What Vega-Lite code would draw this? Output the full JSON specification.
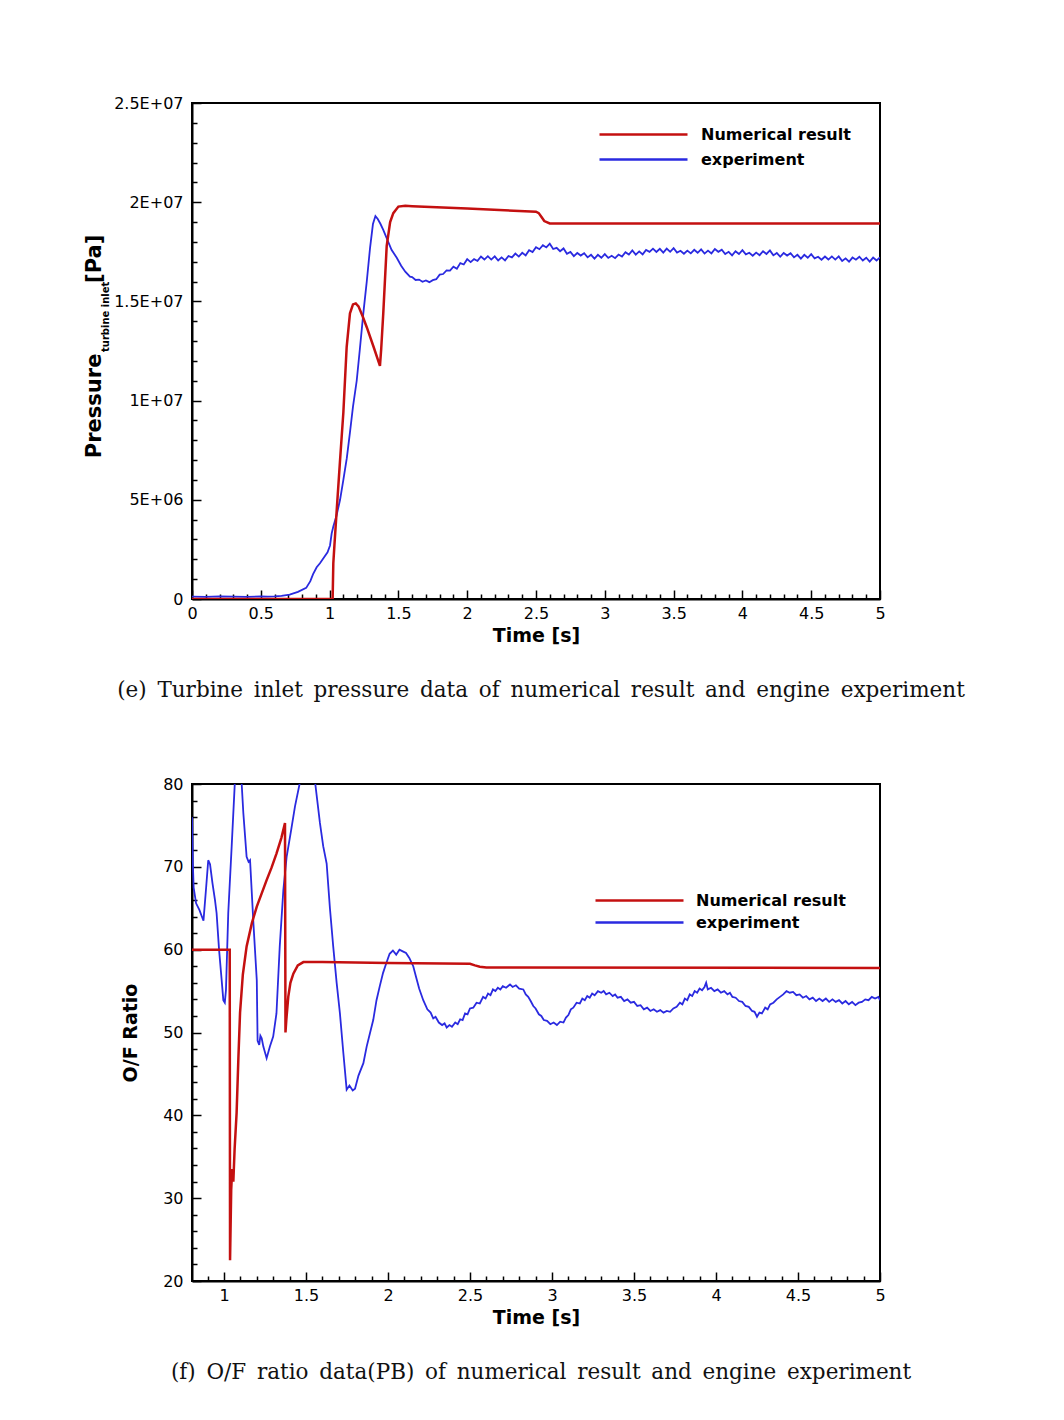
{
  "$schema": "https://vega.github.io/schema/vega-lite/v6.json",
  "background": "white",
  "padding": {"left": 83, "top": 94, "right": 10, "bottom": 10},
  "spacing": 72,
  "config": {
    "view": {"stroke": "black", "strokeWidth": 2},
    "axis": {"domainColor": "black", "domainWidth": 2, "tickColor": "black", "tickWidth": 1.5, "labelFont": "DejaVu Sans", "labelFontSize": 16, "labelColor": "black", "titleFont": "DejaVu Sans", "titleFontWeight": "bold", "titleFontSize": 19, "titleColor": "black", "grid": false, "labelFlush": false, "labelOverlap": false, "labelBound": false},
    "legend": {"symbolType": "M-4.4,0H4.4", "symbolSize": 400, "symbolStrokeWidth": 2.5, "labelFont": "DejaVu Sans", "labelFontWeight": "bold", "labelFontSize": 16, "labelColor": "black", "labelLimit": 0, "padding": 0, "title": null}
  },
  "resolve": {"scale": {"color": "independent"}, "legend": {"color": "independent"}},
  "datasets": {
    "pressure": [
      {"t": 0, "p": 0.12e6, "series": "experiment"},
      {"t": 0.1, "p": 0.11e6, "series": "experiment"},
      {"t": 0.2, "p": 0.13e6, "series": "experiment"},
      {"t": 0.3, "p": 0.12e6, "series": "experiment"},
      {"t": 0.4, "p": 0.11e6, "series": "experiment"},
      {"t": 0.5, "p": 0.13e6, "series": "experiment"},
      {"t": 0.55, "p": 0.12e6, "series": "experiment"},
      {"t": 0.6, "p": 0.13e6, "series": "experiment"},
      {"t": 0.65, "p": 0.16e6, "series": "experiment"},
      {"t": 0.71, "p": 0.22e6, "series": "experiment"},
      {"t": 0.77, "p": 0.36e6, "series": "experiment"},
      {"t": 0.83, "p": 0.56e6, "series": "experiment"},
      {"t": 0.86, "p": 0.9e6, "series": "experiment"},
      {"t": 0.88, "p": 1.25e6, "series": "experiment"},
      {"t": 0.906, "p": 1.6e6, "series": "experiment"},
      {"t": 0.93, "p": 1.8e6, "series": "experiment"},
      {"t": 0.96, "p": 2.1e6, "series": "experiment"},
      {"t": 0.985, "p": 2.35e6, "series": "experiment"},
      {"t": 1.003, "p": 2.7e6, "series": "experiment"},
      {"t": 1.015, "p": 3.3e6, "series": "experiment"},
      {"t": 1.027, "p": 3.65e6, "series": "experiment"},
      {"t": 1.05, "p": 4.2e6, "series": "experiment"},
      {"t": 1.076, "p": 5.0e6, "series": "experiment"},
      {"t": 1.1, "p": 6.0e6, "series": "experiment"},
      {"t": 1.125, "p": 7.1e6, "series": "experiment"},
      {"t": 1.148, "p": 8.4e6, "series": "experiment"},
      {"t": 1.17, "p": 9.7e6, "series": "experiment"},
      {"t": 1.197, "p": 11.0e6, "series": "experiment"},
      {"t": 1.22, "p": 12.6e6, "series": "experiment"},
      {"t": 1.245, "p": 14.4e6, "series": "experiment"},
      {"t": 1.27, "p": 16.0e6, "series": "experiment"},
      {"t": 1.294, "p": 17.7e6, "series": "experiment"},
      {"t": 1.315, "p": 18.9e6, "series": "experiment"},
      {"t": 1.333, "p": 19.3e6, "series": "experiment"},
      {"t": 1.35, "p": 19.15e6, "series": "experiment"},
      {"t": 1.37, "p": 18.9e6, "series": "experiment"},
      {"t": 1.39, "p": 18.6e6, "series": "experiment"},
      {"t": 1.42, "p": 18.1e6, "series": "experiment"},
      {"t": 1.45, "p": 17.6e6, "series": "experiment"},
      {"t": 1.488, "p": 17.2e6, "series": "experiment"},
      {"t": 1.52, "p": 16.8e6, "series": "experiment"},
      {"t": 1.55, "p": 16.5e6, "series": "experiment"},
      {"t": 1.584, "p": 16.25e6, "series": "experiment"},
      {"t": 1.6, "p": 16.23e6, "series": "experiment"},
      {"t": 1.625, "p": 16.08e6, "series": "experiment"},
      {"t": 1.65, "p": 16.10e6, "series": "experiment"},
      {"t": 1.675, "p": 15.99e6, "series": "experiment"},
      {"t": 1.7, "p": 16.06e6, "series": "experiment"},
      {"t": 1.725, "p": 15.97e6, "series": "experiment"},
      {"t": 1.75, "p": 16.07e6, "series": "experiment"},
      {"t": 1.775, "p": 16.12e6, "series": "experiment"},
      {"t": 1.8, "p": 16.35e6, "series": "experiment"},
      {"t": 1.825, "p": 16.38e6, "series": "experiment"},
      {"t": 1.85, "p": 16.56e6, "series": "experiment"},
      {"t": 1.875, "p": 16.55e6, "series": "experiment"},
      {"t": 1.9, "p": 16.75e6, "series": "experiment"},
      {"t": 1.925, "p": 16.65e6, "series": "experiment"},
      {"t": 1.95, "p": 16.93e6, "series": "experiment"},
      {"t": 1.975, "p": 16.86e6, "series": "experiment"},
      {"t": 2.0, "p": 17.13e6, "series": "experiment"},
      {"t": 2.025, "p": 16.98e6, "series": "experiment"},
      {"t": 2.05, "p": 17.13e6, "series": "experiment"},
      {"t": 2.075, "p": 17.04e6, "series": "experiment"},
      {"t": 2.1, "p": 17.26e6, "series": "experiment"},
      {"t": 2.125, "p": 17.11e6, "series": "experiment"},
      {"t": 2.15, "p": 17.28e6, "series": "experiment"},
      {"t": 2.175, "p": 17.11e6, "series": "experiment"},
      {"t": 2.2, "p": 17.27e6, "series": "experiment"},
      {"t": 2.225, "p": 17.06e6, "series": "experiment"},
      {"t": 2.25, "p": 17.22e6, "series": "experiment"},
      {"t": 2.275, "p": 17.07e6, "series": "experiment"},
      {"t": 2.3, "p": 17.29e6, "series": "experiment"},
      {"t": 2.325, "p": 17.22e6, "series": "experiment"},
      {"t": 2.35, "p": 17.41e6, "series": "experiment"},
      {"t": 2.375, "p": 17.26e6, "series": "experiment"},
      {"t": 2.4, "p": 17.45e6, "series": "experiment"},
      {"t": 2.425, "p": 17.32e6, "series": "experiment"},
      {"t": 2.45, "p": 17.58e6, "series": "experiment"},
      {"t": 2.475, "p": 17.49e6, "series": "experiment"},
      {"t": 2.5, "p": 17.73e6, "series": "experiment"},
      {"t": 2.525, "p": 17.63e6, "series": "experiment"},
      {"t": 2.55, "p": 17.83e6, "series": "experiment"},
      {"t": 2.575, "p": 17.72e6, "series": "experiment"},
      {"t": 2.6, "p": 17.91e6, "series": "experiment"},
      {"t": 2.625, "p": 17.64e6, "series": "experiment"},
      {"t": 2.65, "p": 17.70e6, "series": "experiment"},
      {"t": 2.675, "p": 17.53e6, "series": "experiment"},
      {"t": 2.7, "p": 17.67e6, "series": "experiment"},
      {"t": 2.725, "p": 17.40e6, "series": "experiment"},
      {"t": 2.75, "p": 17.49e6, "series": "experiment"},
      {"t": 2.775, "p": 17.28e6, "series": "experiment"},
      {"t": 2.8, "p": 17.44e6, "series": "experiment"},
      {"t": 2.825, "p": 17.31e6, "series": "experiment"},
      {"t": 2.85, "p": 17.43e6, "series": "experiment"},
      {"t": 2.875, "p": 17.22e6, "series": "experiment"},
      {"t": 2.9, "p": 17.35e6, "series": "experiment"},
      {"t": 2.925, "p": 17.16e6, "series": "experiment"},
      {"t": 2.95, "p": 17.35e6, "series": "experiment"},
      {"t": 2.975, "p": 17.20e6, "series": "experiment"},
      {"t": 3.0, "p": 17.38e6, "series": "experiment"},
      {"t": 3.025, "p": 17.19e6, "series": "experiment"},
      {"t": 3.05, "p": 17.30e6, "series": "experiment"},
      {"t": 3.075, "p": 17.18e6, "series": "experiment"},
      {"t": 3.1, "p": 17.36e6, "series": "experiment"},
      {"t": 3.125, "p": 17.26e6, "series": "experiment"},
      {"t": 3.15, "p": 17.48e6, "series": "experiment"},
      {"t": 3.175, "p": 17.36e6, "series": "experiment"},
      {"t": 3.2, "p": 17.57e6, "series": "experiment"},
      {"t": 3.225, "p": 17.36e6, "series": "experiment"},
      {"t": 3.25, "p": 17.52e6, "series": "experiment"},
      {"t": 3.275, "p": 17.37e6, "series": "experiment"},
      {"t": 3.3, "p": 17.59e6, "series": "experiment"},
      {"t": 3.325, "p": 17.50e6, "series": "experiment"},
      {"t": 3.35, "p": 17.66e6, "series": "experiment"},
      {"t": 3.375, "p": 17.49e6, "series": "experiment"},
      {"t": 3.4, "p": 17.65e6, "series": "experiment"},
      {"t": 3.425, "p": 17.46e6, "series": "experiment"},
      {"t": 3.45, "p": 17.66e6, "series": "experiment"},
      {"t": 3.475, "p": 17.50e6, "series": "experiment"},
      {"t": 3.5, "p": 17.68e6, "series": "experiment"},
      {"t": 3.525, "p": 17.46e6, "series": "experiment"},
      {"t": 3.55, "p": 17.55e6, "series": "experiment"},
      {"t": 3.575, "p": 17.40e6, "series": "experiment"},
      {"t": 3.6, "p": 17.56e6, "series": "experiment"},
      {"t": 3.625, "p": 17.42e6, "series": "experiment"},
      {"t": 3.65, "p": 17.60e6, "series": "experiment"},
      {"t": 3.675, "p": 17.45e6, "series": "experiment"},
      {"t": 3.7, "p": 17.62e6, "series": "experiment"},
      {"t": 3.725, "p": 17.41e6, "series": "experiment"},
      {"t": 3.75, "p": 17.56e6, "series": "experiment"},
      {"t": 3.775, "p": 17.42e6, "series": "experiment"},
      {"t": 3.8, "p": 17.64e6, "series": "experiment"},
      {"t": 3.825, "p": 17.50e6, "series": "experiment"},
      {"t": 3.85, "p": 17.61e6, "series": "experiment"},
      {"t": 3.875, "p": 17.39e6, "series": "experiment"},
      {"t": 3.9, "p": 17.50e6, "series": "experiment"},
      {"t": 3.925, "p": 17.32e6, "series": "experiment"},
      {"t": 3.95, "p": 17.53e6, "series": "experiment"},
      {"t": 3.975, "p": 17.39e6, "series": "experiment"},
      {"t": 4.0, "p": 17.58e6, "series": "experiment"},
      {"t": 4.025, "p": 17.37e6, "series": "experiment"},
      {"t": 4.05, "p": 17.45e6, "series": "experiment"},
      {"t": 4.075, "p": 17.30e6, "series": "experiment"},
      {"t": 4.1, "p": 17.46e6, "series": "experiment"},
      {"t": 4.125, "p": 17.33e6, "series": "experiment"},
      {"t": 4.15, "p": 17.53e6, "series": "experiment"},
      {"t": 4.175, "p": 17.39e6, "series": "experiment"},
      {"t": 4.2, "p": 17.57e6, "series": "experiment"},
      {"t": 4.225, "p": 17.32e6, "series": "experiment"},
      {"t": 4.25, "p": 17.44e6, "series": "experiment"},
      {"t": 4.275, "p": 17.25e6, "series": "experiment"},
      {"t": 4.3, "p": 17.44e6, "series": "experiment"},
      {"t": 4.325, "p": 17.31e6, "series": "experiment"},
      {"t": 4.35, "p": 17.43e6, "series": "experiment"},
      {"t": 4.375, "p": 17.22e6, "series": "experiment"},
      {"t": 4.4, "p": 17.35e6, "series": "experiment"},
      {"t": 4.425, "p": 17.16e6, "series": "experiment"},
      {"t": 4.45, "p": 17.35e6, "series": "experiment"},
      {"t": 4.475, "p": 17.20e6, "series": "experiment"},
      {"t": 4.5, "p": 17.38e6, "series": "experiment"},
      {"t": 4.525, "p": 17.17e6, "series": "experiment"},
      {"t": 4.55, "p": 17.25e6, "series": "experiment"},
      {"t": 4.575, "p": 17.10e6, "series": "experiment"},
      {"t": 4.6, "p": 17.26e6, "series": "experiment"},
      {"t": 4.625, "p": 17.11e6, "series": "experiment"},
      {"t": 4.65, "p": 17.27e6, "series": "experiment"},
      {"t": 4.675, "p": 17.11e6, "series": "experiment"},
      {"t": 4.7, "p": 17.27e6, "series": "experiment"},
      {"t": 4.725, "p": 17.04e6, "series": "experiment"},
      {"t": 4.75, "p": 17.17e6, "series": "experiment"},
      {"t": 4.775, "p": 17.00e6, "series": "experiment"},
      {"t": 4.8, "p": 17.21e6, "series": "experiment"},
      {"t": 4.825, "p": 17.10e6, "series": "experiment"},
      {"t": 4.85, "p": 17.25e6, "series": "experiment"},
      {"t": 4.875, "p": 17.06e6, "series": "experiment"},
      {"t": 4.9, "p": 17.20e6, "series": "experiment"},
      {"t": 4.925, "p": 17.01e6, "series": "experiment"},
      {"t": 4.95, "p": 17.21e6, "series": "experiment"},
      {"t": 4.975, "p": 17.06e6, "series": "experiment"},
      {"t": 5.0, "p": 17.22e6, "series": "experiment"},
      {"t": 0, "p": 0, "series": "Numerical result"},
      {"t": 1.022, "p": 0, "series": "Numerical result"},
      {"t": 1.027, "p": 1.8e6, "series": "Numerical result"},
      {"t": 1.035, "p": 2.7e6, "series": "Numerical result"},
      {"t": 1.05, "p": 4.3e6, "series": "Numerical result"},
      {"t": 1.075, "p": 6.9e6, "series": "Numerical result"},
      {"t": 1.1, "p": 9.4e6, "series": "Numerical result"},
      {"t": 1.124, "p": 12.7e6, "series": "Numerical result"},
      {"t": 1.148, "p": 14.4e6, "series": "Numerical result"},
      {"t": 1.17, "p": 14.85e6, "series": "Numerical result"},
      {"t": 1.19, "p": 14.9e6, "series": "Numerical result"},
      {"t": 1.21, "p": 14.75e6, "series": "Numerical result"},
      {"t": 1.24, "p": 14.25e6, "series": "Numerical result"},
      {"t": 1.27, "p": 13.7e6, "series": "Numerical result"},
      {"t": 1.32, "p": 12.7e6, "series": "Numerical result"},
      {"t": 1.366, "p": 11.75e6, "series": "Numerical result"},
      {"t": 1.375, "p": 12.6e6, "series": "Numerical result"},
      {"t": 1.39, "p": 14.4e6, "series": "Numerical result"},
      {"t": 1.415, "p": 17.8e6, "series": "Numerical result"},
      {"t": 1.44, "p": 19.0e6, "series": "Numerical result"},
      {"t": 1.463, "p": 19.45e6, "series": "Numerical result"},
      {"t": 1.5, "p": 19.78e6, "series": "Numerical result"},
      {"t": 1.55, "p": 19.82e6, "series": "Numerical result"},
      {"t": 1.6, "p": 19.8e6, "series": "Numerical result"},
      {"t": 2.0, "p": 19.68e6, "series": "Numerical result"},
      {"t": 2.5, "p": 19.52e6, "series": "Numerical result"},
      {"t": 2.52, "p": 19.45e6, "series": "Numerical result"},
      {"t": 2.54, "p": 19.25e6, "series": "Numerical result"},
      {"t": 2.56, "p": 19.05e6, "series": "Numerical result"},
      {"t": 2.6, "p": 18.93e6, "series": "Numerical result"},
      {"t": 5.0, "p": 18.93e6, "series": "Numerical result"}
    ],
    "ratio": [
      {"t": 0.805, "r": 76, "series": "experiment"},
      {"t": 0.81, "r": 70.5, "series": "experiment"},
      {"t": 0.815, "r": 67.5, "series": "experiment"},
      {"t": 0.83, "r": 65.6, "series": "experiment"},
      {"t": 0.85, "r": 64.8, "series": "experiment"},
      {"t": 0.865, "r": 64.0, "series": "experiment"},
      {"t": 0.875, "r": 63.5, "series": "experiment"},
      {"t": 0.89, "r": 67.2, "series": "experiment"},
      {"t": 0.904, "r": 70.8, "series": "experiment"},
      {"t": 0.915, "r": 70.3, "series": "experiment"},
      {"t": 0.93, "r": 68.0, "series": "experiment"},
      {"t": 0.945, "r": 66.0, "series": "experiment"},
      {"t": 0.955, "r": 64.4, "series": "experiment"},
      {"t": 0.97, "r": 60.0, "series": "experiment"},
      {"t": 0.986, "r": 56.3, "series": "experiment"},
      {"t": 0.996, "r": 53.9, "series": "experiment"},
      {"t": 1.005, "r": 53.6, "series": "experiment"},
      {"t": 1.012, "r": 55.1, "series": "experiment"},
      {"t": 1.026, "r": 64.4, "series": "experiment"},
      {"t": 1.047, "r": 72.5, "series": "experiment"},
      {"t": 1.067, "r": 80.5, "series": "experiment"},
      {"t": 1.08, "r": 83, "series": "experiment"},
      {"t": 1.1, "r": 82, "series": "experiment"},
      {"t": 1.108, "r": 80, "series": "experiment"},
      {"t": 1.118, "r": 76.5, "series": "experiment"},
      {"t": 1.138, "r": 71.2, "series": "experiment"},
      {"t": 1.15, "r": 70.6, "series": "experiment"},
      {"t": 1.159, "r": 70.8, "series": "experiment"},
      {"t": 1.18, "r": 63, "series": "experiment"},
      {"t": 1.2, "r": 56.3, "series": "experiment"},
      {"t": 1.205, "r": 49, "series": "experiment"},
      {"t": 1.215, "r": 48.5, "series": "experiment"},
      {"t": 1.222, "r": 49.6, "series": "experiment"},
      {"t": 1.23, "r": 49.3, "series": "experiment"},
      {"t": 1.24, "r": 48.3, "series": "experiment"},
      {"t": 1.26, "r": 46.9, "series": "experiment"},
      {"t": 1.28, "r": 48.3, "series": "experiment"},
      {"t": 1.3, "r": 49.5, "series": "experiment"},
      {"t": 1.32, "r": 52.3, "series": "experiment"},
      {"t": 1.34, "r": 60.4, "series": "experiment"},
      {"t": 1.362, "r": 67.2, "series": "experiment"},
      {"t": 1.382, "r": 71.2, "series": "experiment"},
      {"t": 1.41, "r": 74.5, "series": "experiment"},
      {"t": 1.433, "r": 77.3, "series": "experiment"},
      {"t": 1.463, "r": 80.2, "series": "experiment"},
      {"t": 1.5, "r": 82.5, "series": "experiment"},
      {"t": 1.53, "r": 82.5, "series": "experiment"},
      {"t": 1.555, "r": 80.3, "series": "experiment"},
      {"t": 1.585, "r": 75.3, "series": "experiment"},
      {"t": 1.605, "r": 72.5, "series": "experiment"},
      {"t": 1.626, "r": 70.4, "series": "experiment"},
      {"t": 1.646, "r": 65, "series": "experiment"},
      {"t": 1.666, "r": 60.4, "series": "experiment"},
      {"t": 1.687, "r": 56, "series": "experiment"},
      {"t": 1.707, "r": 52.3, "series": "experiment"},
      {"t": 1.728, "r": 47.5, "series": "experiment"},
      {"t": 1.748, "r": 43.1, "series": "experiment"},
      {"t": 1.765, "r": 43.6, "series": "experiment"},
      {"t": 1.785, "r": 43.0, "series": "experiment"},
      {"t": 1.799, "r": 43.2, "series": "experiment"},
      {"t": 1.82, "r": 44.8, "series": "experiment"},
      {"t": 1.85, "r": 46.3, "series": "experiment"},
      {"t": 1.87, "r": 48.3, "series": "experiment"},
      {"t": 1.89, "r": 49.9, "series": "experiment"},
      {"t": 1.91, "r": 51.5, "series": "experiment"},
      {"t": 1.93, "r": 53.9, "series": "experiment"},
      {"t": 1.95, "r": 55.6, "series": "experiment"},
      {"t": 1.97, "r": 57.2, "series": "experiment"},
      {"t": 1.99, "r": 58.4, "series": "experiment"},
      {"t": 2.01, "r": 59.5, "series": "experiment"},
      {"t": 2.03, "r": 59.9, "series": "experiment"},
      {"t": 2.05, "r": 59.4, "series": "experiment"},
      {"t": 2.07, "r": 60.0, "series": "experiment"},
      {"t": 2.09, "r": 59.8, "series": "experiment"},
      {"t": 2.11, "r": 59.6, "series": "experiment"},
      {"t": 2.13, "r": 59.0, "series": "experiment"},
      {"t": 2.154, "r": 58.0, "series": "experiment"},
      {"t": 2.17, "r": 56.8, "series": "experiment"},
      {"t": 2.19, "r": 55.3, "series": "experiment"},
      {"t": 2.215, "r": 53.9, "series": "experiment"},
      {"t": 2.24, "r": 52.8, "series": "experiment"},
      {"t": 2.26, "r": 52.4, "series": "experiment"},
      {"t": 2.276, "r": 51.7, "series": "experiment"},
      {"t": 2.29, "r": 51.9, "series": "experiment"},
      {"t": 2.31, "r": 51.2, "series": "experiment"},
      {"t": 2.33, "r": 50.9, "series": "experiment"},
      {"t": 2.345, "r": 51.1, "series": "experiment"},
      {"t": 2.358, "r": 50.6, "series": "experiment"},
      {"t": 2.375, "r": 50.9, "series": "experiment"},
      {"t": 2.39, "r": 50.7, "series": "experiment"},
      {"t": 2.41, "r": 51.2, "series": "experiment"},
      {"t": 2.425, "r": 51.0, "series": "experiment"},
      {"t": 2.44, "r": 51.6, "series": "experiment"},
      {"t": 2.455, "r": 51.5, "series": "experiment"},
      {"t": 2.47, "r": 52.3, "series": "experiment"},
      {"t": 2.485, "r": 52.2, "series": "experiment"},
      {"t": 2.5, "r": 52.9, "series": "experiment"},
      {"t": 2.52, "r": 53.0, "series": "experiment"},
      {"t": 2.54, "r": 53.6, "series": "experiment"},
      {"t": 2.56, "r": 53.5, "series": "experiment"},
      {"t": 2.58, "r": 54.3, "series": "experiment"},
      {"t": 2.595, "r": 54.1, "series": "experiment"},
      {"t": 2.61, "r": 54.7, "series": "experiment"},
      {"t": 2.625, "r": 54.5, "series": "experiment"},
      {"t": 2.64, "r": 55.2, "series": "experiment"},
      {"t": 2.655, "r": 55.0, "series": "experiment"},
      {"t": 2.67, "r": 55.4, "series": "experiment"},
      {"t": 2.685, "r": 55.2, "series": "experiment"},
      {"t": 2.7, "r": 55.6, "series": "experiment"},
      {"t": 2.72, "r": 55.4, "series": "experiment"},
      {"t": 2.744, "r": 55.8, "series": "experiment"},
      {"t": 2.76, "r": 55.5, "series": "experiment"},
      {"t": 2.78, "r": 55.7, "series": "experiment"},
      {"t": 2.8, "r": 55.3, "series": "experiment"},
      {"t": 2.825, "r": 55.2, "series": "experiment"},
      {"t": 2.84, "r": 54.6, "series": "experiment"},
      {"t": 2.855, "r": 54.3, "series": "experiment"},
      {"t": 2.87, "r": 53.8, "series": "experiment"},
      {"t": 2.886, "r": 53.2, "series": "experiment"},
      {"t": 2.9, "r": 52.9, "series": "experiment"},
      {"t": 2.92, "r": 52.2, "series": "experiment"},
      {"t": 2.935, "r": 52.0, "series": "experiment"},
      {"t": 2.95, "r": 51.5, "series": "experiment"},
      {"t": 2.97, "r": 51.4, "series": "experiment"},
      {"t": 2.99, "r": 51.0, "series": "experiment"},
      {"t": 3.01, "r": 51.2, "series": "experiment"},
      {"t": 3.03, "r": 50.9, "series": "experiment"},
      {"t": 3.05, "r": 51.3, "series": "experiment"},
      {"t": 3.07, "r": 51.2, "series": "experiment"},
      {"t": 3.085, "r": 51.8, "series": "experiment"},
      {"t": 3.1, "r": 52.1, "series": "experiment"},
      {"t": 3.115, "r": 52.8, "series": "experiment"},
      {"t": 3.13, "r": 53.0, "series": "experiment"},
      {"t": 3.15, "r": 53.6, "series": "experiment"},
      {"t": 3.17, "r": 53.5, "series": "experiment"},
      {"t": 3.185, "r": 54.1, "series": "experiment"},
      {"t": 3.2, "r": 53.9, "series": "experiment"},
      {"t": 3.215, "r": 54.4, "series": "experiment"},
      {"t": 3.23, "r": 54.2, "series": "experiment"},
      {"t": 3.245, "r": 54.7, "series": "experiment"},
      {"t": 3.26, "r": 54.5, "series": "experiment"},
      {"t": 3.28, "r": 55.0, "series": "experiment"},
      {"t": 3.3, "r": 54.8, "series": "experiment"},
      {"t": 3.315, "r": 55.0, "series": "experiment"},
      {"t": 3.33, "r": 54.6, "series": "experiment"},
      {"t": 3.35, "r": 54.8, "series": "experiment"},
      {"t": 3.37, "r": 54.4, "series": "experiment"},
      {"t": 3.385, "r": 54.6, "series": "experiment"},
      {"t": 3.4, "r": 54.2, "series": "experiment"},
      {"t": 3.42, "r": 54.3, "series": "experiment"},
      {"t": 3.44, "r": 53.8, "series": "experiment"},
      {"t": 3.46, "r": 54.0, "series": "experiment"},
      {"t": 3.48, "r": 53.6, "series": "experiment"},
      {"t": 3.5, "r": 53.7, "series": "experiment"},
      {"t": 3.52, "r": 53.2, "series": "experiment"},
      {"t": 3.54, "r": 53.3, "series": "experiment"},
      {"t": 3.56, "r": 52.8, "series": "experiment"},
      {"t": 3.58, "r": 53.0, "series": "experiment"},
      {"t": 3.6, "r": 52.6, "series": "experiment"},
      {"t": 3.62, "r": 52.8, "series": "experiment"},
      {"t": 3.64, "r": 52.5, "series": "experiment"},
      {"t": 3.66, "r": 52.7, "series": "experiment"},
      {"t": 3.68, "r": 52.4, "series": "experiment"},
      {"t": 3.7, "r": 52.6, "series": "experiment"},
      {"t": 3.72, "r": 52.5, "series": "experiment"},
      {"t": 3.74, "r": 52.9, "series": "experiment"},
      {"t": 3.76, "r": 53.1, "series": "experiment"},
      {"t": 3.78, "r": 53.6, "series": "experiment"},
      {"t": 3.795, "r": 53.4, "series": "experiment"},
      {"t": 3.81, "r": 54.1, "series": "experiment"},
      {"t": 3.825, "r": 53.9, "series": "experiment"},
      {"t": 3.84, "r": 54.6, "series": "experiment"},
      {"t": 3.855, "r": 54.4, "series": "experiment"},
      {"t": 3.87, "r": 55.0, "series": "experiment"},
      {"t": 3.885, "r": 54.8, "series": "experiment"},
      {"t": 3.9, "r": 55.3, "series": "experiment"},
      {"t": 3.915, "r": 55.1, "series": "experiment"},
      {"t": 3.93, "r": 55.5, "series": "experiment"},
      {"t": 3.94, "r": 56.0, "series": "experiment"},
      {"t": 3.95, "r": 55.2, "series": "experiment"},
      {"t": 3.97, "r": 55.4, "series": "experiment"},
      {"t": 3.99, "r": 55.0, "series": "experiment"},
      {"t": 4.01, "r": 55.2, "series": "experiment"},
      {"t": 4.03, "r": 54.8, "series": "experiment"},
      {"t": 4.05, "r": 55.0, "series": "experiment"},
      {"t": 4.07, "r": 54.6, "series": "experiment"},
      {"t": 4.085, "r": 54.8, "series": "experiment"},
      {"t": 4.1, "r": 54.3, "series": "experiment"},
      {"t": 4.12, "r": 54.2, "series": "experiment"},
      {"t": 4.14, "r": 53.8, "series": "experiment"},
      {"t": 4.16, "r": 53.7, "series": "experiment"},
      {"t": 4.18, "r": 53.2, "series": "experiment"},
      {"t": 4.2, "r": 53.1, "series": "experiment"},
      {"t": 4.22, "r": 52.6, "series": "experiment"},
      {"t": 4.235, "r": 52.5, "series": "experiment"},
      {"t": 4.25, "r": 51.9, "series": "experiment"},
      {"t": 4.265, "r": 52.4, "series": "experiment"},
      {"t": 4.28, "r": 52.3, "series": "experiment"},
      {"t": 4.3, "r": 53.0, "series": "experiment"},
      {"t": 4.315, "r": 52.8, "series": "experiment"},
      {"t": 4.33, "r": 53.4, "series": "experiment"},
      {"t": 4.35, "r": 53.6, "series": "experiment"},
      {"t": 4.37, "r": 54.0, "series": "experiment"},
      {"t": 4.39, "r": 54.3, "series": "experiment"},
      {"t": 4.41, "r": 54.6, "series": "experiment"},
      {"t": 4.43, "r": 55.0, "series": "experiment"},
      {"t": 4.45, "r": 54.8, "series": "experiment"},
      {"t": 4.47, "r": 54.9, "series": "experiment"},
      {"t": 4.49, "r": 54.5, "series": "experiment"},
      {"t": 4.51, "r": 54.6, "series": "experiment"},
      {"t": 4.53, "r": 54.2, "series": "experiment"},
      {"t": 4.55, "r": 54.4, "series": "experiment"},
      {"t": 4.57, "r": 54.0, "series": "experiment"},
      {"t": 4.59, "r": 54.2, "series": "experiment"},
      {"t": 4.61, "r": 53.8, "series": "experiment"},
      {"t": 4.63, "r": 54.1, "series": "experiment"},
      {"t": 4.65, "r": 53.8, "series": "experiment"},
      {"t": 4.67, "r": 54.1, "series": "experiment"},
      {"t": 4.69, "r": 53.7, "series": "experiment"},
      {"t": 4.71, "r": 54.0, "series": "experiment"},
      {"t": 4.73, "r": 53.7, "series": "experiment"},
      {"t": 4.75, "r": 53.9, "series": "experiment"},
      {"t": 4.77, "r": 53.5, "series": "experiment"},
      {"t": 4.79, "r": 53.8, "series": "experiment"},
      {"t": 4.81, "r": 53.4, "series": "experiment"},
      {"t": 4.83, "r": 53.7, "series": "experiment"},
      {"t": 4.85, "r": 53.3, "series": "experiment"},
      {"t": 4.87, "r": 53.6, "series": "experiment"},
      {"t": 4.89, "r": 53.7, "series": "experiment"},
      {"t": 4.91, "r": 54.0, "series": "experiment"},
      {"t": 4.93, "r": 53.9, "series": "experiment"},
      {"t": 4.95, "r": 54.3, "series": "experiment"},
      {"t": 4.97, "r": 54.1, "series": "experiment"},
      {"t": 4.99, "r": 54.3, "series": "experiment"},
      {"t": 5.0, "r": 53.9, "series": "experiment"},
      {"t": 0.805, "r": 60, "series": "Numerical result"},
      {"t": 1.035, "r": 60, "series": "Numerical result"},
      {"t": 1.037, "r": 22.5, "series": "Numerical result"},
      {"t": 1.044, "r": 31, "series": "Numerical result"},
      {"t": 1.05, "r": 33.5, "series": "Numerical result"},
      {"t": 1.057, "r": 32, "series": "Numerical result"},
      {"t": 1.065, "r": 36, "series": "Numerical result"},
      {"t": 1.077, "r": 40.3, "series": "Numerical result"},
      {"t": 1.088, "r": 47, "series": "Numerical result"},
      {"t": 1.098, "r": 52.4, "series": "Numerical result"},
      {"t": 1.115, "r": 57, "series": "Numerical result"},
      {"t": 1.138, "r": 60.4, "series": "Numerical result"},
      {"t": 1.17, "r": 63.2, "series": "Numerical result"},
      {"t": 1.2, "r": 65.2, "series": "Numerical result"},
      {"t": 1.23, "r": 66.8, "series": "Numerical result"},
      {"t": 1.26, "r": 68.4, "series": "Numerical result"},
      {"t": 1.29, "r": 69.9, "series": "Numerical result"},
      {"t": 1.32, "r": 71.6, "series": "Numerical result"},
      {"t": 1.35, "r": 73.5, "series": "Numerical result"},
      {"t": 1.372, "r": 75.3, "series": "Numerical result"},
      {"t": 1.375, "r": 50, "series": "Numerical result"},
      {"t": 1.38, "r": 51.5, "series": "Numerical result"},
      {"t": 1.392, "r": 54.3, "series": "Numerical result"},
      {"t": 1.405, "r": 56, "series": "Numerical result"},
      {"t": 1.423, "r": 57.1, "series": "Numerical result"},
      {"t": 1.45, "r": 58.1, "series": "Numerical result"},
      {"t": 1.484, "r": 58.5, "series": "Numerical result"},
      {"t": 1.6, "r": 58.5, "series": "Numerical result"},
      {"t": 2.0, "r": 58.4, "series": "Numerical result"},
      {"t": 2.5, "r": 58.3, "series": "Numerical result"},
      {"t": 2.53, "r": 58.1, "series": "Numerical result"},
      {"t": 2.56, "r": 57.95, "series": "Numerical result"},
      {"t": 2.6, "r": 57.85, "series": "Numerical result"},
      {"t": 5.0, "r": 57.8, "series": "Numerical result"}
    ]
  },
  "vconcat": [
    {
      "width": 688,
      "height": 496,
      "title": {"text": "(e)\u2002Turbine\u2002inlet\u2002pressure\u2002data\u2002of\u2002numerical\u2002result\u2002and\u2002engine\u2002experiment", "orient": "bottom", "anchor": "middle", "frame": "group", "font": "DejaVu Serif", "fontSize": 21.5, "fontWeight": "normal", "color": "#111111", "offset": 35, "dx": 5},
      "layer": [
        {
          "data": {"name": "pressure"},
          "mark": {"type": "line", "clip": true},
          "encoding": {
            "x": {"field": "t", "type": "quantitative", "scale": {"domain": [0, 5], "nice": false, "zero": false},
              "axis": {"title": "Time [s]", "values": [0,0.1,0.2,0.3,0.4,0.5,0.6,0.7,0.8,0.9,1,1.1,1.2,1.3,1.4,1.5,1.6,1.7,1.8,1.9,2,2.1,2.2,2.3,2.4,2.5,2.6,2.7,2.8,2.9,3,3.1,3.2,3.3,3.4,3.5,3.6,3.7,3.8,3.9,4,4.1,4.2,4.3,4.4,4.5,4.6,4.7,4.8,4.9,5],
                "labelExpr": "abs(datum.value*2-round(datum.value*2))<0.001 ? format(datum.value,'~g') : ''",
                "tickSize": {"condition": {"test": "abs(datum.value*2-round(datum.value*2))<0.001", "value": -9}, "value": -5},
                "labelPadding": 15, "titlePadding": 1}},
            "y": {"field": "p", "type": "quantitative", "scale": {"domain": [0, 25000000], "nice": false},
              "axis": {"title": null, "values": [0,1000000,2000000,3000000,4000000,5000000,6000000,7000000,8000000,9000000,10000000,11000000,12000000,13000000,14000000,15000000,16000000,17000000,18000000,19000000,20000000,21000000,22000000,23000000,24000000,25000000],
                "labelExpr": "datum.value==0?'0':datum.value==5000000?'5E+06':datum.value==10000000?'1E+07':datum.value==15000000?'1.5E+07':datum.value==20000000?'2E+07':datum.value==25000000?'2.5E+07':''",
                "tickSize": {"condition": {"test": "datum.value % 5000000 == 0", "value": -9}, "value": -5},
                "labelPadding": 18}},
            "color": {"field": "series", "type": "nominal", "scale": {"domain": ["Numerical result", "experiment"], "range": ["#c41010", "#2a2ae0"]},
              "legend": {"orient": "none", "legendX": 440, "legendY": 20, "labelOffset": 46, "rowPadding": 5}},
            "strokeWidth": {"field": "series", "type": "nominal", "scale": {"domain": ["Numerical result", "experiment"], "range": [2.5, 1.8]}, "legend": null}
          }
        },
        {
          "data": {"values": [{}]},
          "mark": {"type": "text", "angle": 270, "align": "left", "baseline": "alphabetic", "font": "DejaVu Sans", "fontWeight": "bold", "fontSize": 21, "text": "Pressure", "color": "black"},
          "encoding": {
            "x": {"datum": -0.661, "type": "quantitative", "scale": {"domain": [0, 5], "nice": false, "zero": false},
              "axis": {"title": "Time [s]", "values": [0,0.1,0.2,0.3,0.4,0.5,0.6,0.7,0.8,0.9,1,1.1,1.2,1.3,1.4,1.5,1.6,1.7,1.8,1.9,2,2.1,2.2,2.3,2.4,2.5,2.6,2.7,2.8,2.9,3,3.1,3.2,3.3,3.4,3.5,3.6,3.7,3.8,3.9,4,4.1,4.2,4.3,4.4,4.5,4.6,4.7,4.8,4.9,5],
                "labelExpr": "abs(datum.value*2-round(datum.value*2))<0.001 ? format(datum.value,'~g') : ''",
                "tickSize": {"condition": {"test": "abs(datum.value*2-round(datum.value*2))<0.001", "value": -9}, "value": -5},
                "labelPadding": 15, "titlePadding": 1}},
            "y": {"datum": 7100000, "type": "quantitative", "scale": {"domain": [0, 25000000], "nice": false},
              "axis": {"title": null, "values": [0,1000000,2000000,3000000,4000000,5000000,6000000,7000000,8000000,9000000,10000000,11000000,12000000,13000000,14000000,15000000,16000000,17000000,18000000,19000000,20000000,21000000,22000000,23000000,24000000,25000000],
                "labelExpr": "datum.value==0?'0':datum.value==5000000?'5E+06':datum.value==10000000?'1E+07':datum.value==15000000?'1.5E+07':datum.value==20000000?'2E+07':datum.value==25000000?'2.5E+07':''",
                "tickSize": {"condition": {"test": "datum.value % 5000000 == 0", "value": -9}, "value": -5},
                "labelPadding": 18}}
          }
        },
        {
          "data": {"values": [{}]},
          "mark": {"type": "text", "angle": 270, "align": "left", "baseline": "alphabetic", "font": "DejaVu Sans", "fontWeight": "bold", "fontSize": 10, "text": "turbine inlet", "color": "black"},
          "encoding": {
            "x": {"datum": -0.6, "type": "quantitative", "scale": {"domain": [0, 5], "nice": false, "zero": false},
              "axis": {"title": "Time [s]", "values": [0,0.1,0.2,0.3,0.4,0.5,0.6,0.7,0.8,0.9,1,1.1,1.2,1.3,1.4,1.5,1.6,1.7,1.8,1.9,2,2.1,2.2,2.3,2.4,2.5,2.6,2.7,2.8,2.9,3,3.1,3.2,3.3,3.4,3.5,3.6,3.7,3.8,3.9,4,4.1,4.2,4.3,4.4,4.5,4.6,4.7,4.8,4.9,5],
                "labelExpr": "abs(datum.value*2-round(datum.value*2))<0.001 ? format(datum.value,'~g') : ''",
                "tickSize": {"condition": {"test": "abs(datum.value*2-round(datum.value*2))<0.001", "value": -9}, "value": -5},
                "labelPadding": 15, "titlePadding": 1}},
            "y": {"datum": 12450000, "type": "quantitative", "scale": {"domain": [0, 25000000], "nice": false},
              "axis": {"title": null, "values": [0,1000000,2000000,3000000,4000000,5000000,6000000,7000000,8000000,9000000,10000000,11000000,12000000,13000000,14000000,15000000,16000000,17000000,18000000,19000000,20000000,21000000,22000000,23000000,24000000,25000000],
                "labelExpr": "datum.value==0?'0':datum.value==5000000?'5E+06':datum.value==10000000?'1E+07':datum.value==15000000?'1.5E+07':datum.value==20000000?'2E+07':datum.value==25000000?'2.5E+07':''",
                "tickSize": {"condition": {"test": "datum.value % 5000000 == 0", "value": -9}, "value": -5},
                "labelPadding": 18}}
          }
        },
        {
          "data": {"values": [{}]},
          "mark": {"type": "text", "angle": 270, "align": "left", "baseline": "alphabetic", "font": "DejaVu Sans", "fontWeight": "bold", "fontSize": 21, "text": "[Pa]", "color": "black"},
          "encoding": {
            "x": {"datum": -0.661, "type": "quantitative", "scale": {"domain": [0, 5], "nice": false, "zero": false},
              "axis": {"title": "Time [s]", "values": [0,0.1,0.2,0.3,0.4,0.5,0.6,0.7,0.8,0.9,1,1.1,1.2,1.3,1.4,1.5,1.6,1.7,1.8,1.9,2,2.1,2.2,2.3,2.4,2.5,2.6,2.7,2.8,2.9,3,3.1,3.2,3.3,3.4,3.5,3.6,3.7,3.8,3.9,4,4.1,4.2,4.3,4.4,4.5,4.6,4.7,4.8,4.9,5],
                "labelExpr": "abs(datum.value*2-round(datum.value*2))<0.001 ? format(datum.value,'~g') : ''",
                "tickSize": {"condition": {"test": "abs(datum.value*2-round(datum.value*2))<0.001", "value": -9}, "value": -5},
                "labelPadding": 15, "titlePadding": 1}},
            "y": {"datum": 15930000, "type": "quantitative", "scale": {"domain": [0, 25000000], "nice": false},
              "axis": {"title": null, "values": [0,1000000,2000000,3000000,4000000,5000000,6000000,7000000,8000000,9000000,10000000,11000000,12000000,13000000,14000000,15000000,16000000,17000000,18000000,19000000,20000000,21000000,22000000,23000000,24000000,25000000],
                "labelExpr": "datum.value==0?'0':datum.value==5000000?'5E+06':datum.value==10000000?'1E+07':datum.value==15000000?'1.5E+07':datum.value==20000000?'2E+07':datum.value==25000000?'2.5E+07':''",
                "tickSize": {"condition": {"test": "datum.value % 5000000 == 0", "value": -9}, "value": -5},
                "labelPadding": 18}}
          }
        }
      ]
    },
    {
      "width": 688,
      "height": 497,
      "title": {"text": "(f)\u2002O/F\u2002ratio\u2002data(PB)\u2002of\u2002numerical\u2002result\u2002and\u2002engine\u2002experiment", "orient": "bottom", "anchor": "middle", "frame": "group", "font": "DejaVu Serif", "fontSize": 21.5, "fontWeight": "normal", "color": "#111111", "offset": 35, "dx": 5},
      "data": {"name": "ratio"},
      "mark": {"type": "line", "clip": true},
      "encoding": {
        "x": {"field": "t", "type": "quantitative", "scale": {"domain": [0.805, 5], "nice": false, "zero": false},
          "axis": {"title": "Time [s]", "values": [0.9,1,1.1,1.2,1.3,1.4,1.5,1.6,1.7,1.8,1.9,2,2.1,2.2,2.3,2.4,2.5,2.6,2.7,2.8,2.9,3,3.1,3.2,3.3,3.4,3.5,3.6,3.7,3.8,3.9,4,4.1,4.2,4.3,4.4,4.5,4.6,4.7,4.8,4.9,5],
            "labelExpr": "abs(datum.value*2-round(datum.value*2))<0.001 ? format(datum.value,'~g') : ''",
            "tickSize": {"condition": {"test": "abs(datum.value*2-round(datum.value*2))<0.001", "value": -9}, "value": -5},
            "labelPadding": 15, "titlePadding": 1}},
        "y": {"field": "r", "type": "quantitative", "scale": {"domain": [20, 80], "nice": false, "zero": false},
          "axis": {"title": "O/F Ratio", "values": [20,22,24,26,28,30,32,34,36,38,40,42,44,46,48,50,52,54,56,58,60,62,64,66,68,70,72,74,76,78,80],
            "labelExpr": "datum.value % 10 == 0 ? format(datum.value,'d') : ''",
            "tickSize": {"condition": {"test": "datum.value % 10 == 0", "value": -9}, "value": -5},
            "labelPadding": 18, "titlePadding": 22}},
        "color": {"field": "series", "type": "nominal", "scale": {"domain": ["Numerical result", "experiment"], "range": ["#c41010", "#2a2ae0"]},
          "legend": {"orient": "none", "legendX": 436, "legendY": 105, "labelOffset": 45, "rowPadding": 2}},
        "strokeWidth": {"field": "series", "type": "nominal", "scale": {"domain": ["Numerical result", "experiment"], "range": [2.5, 1.8]}, "legend": null}
      }
    }
  ]
}
